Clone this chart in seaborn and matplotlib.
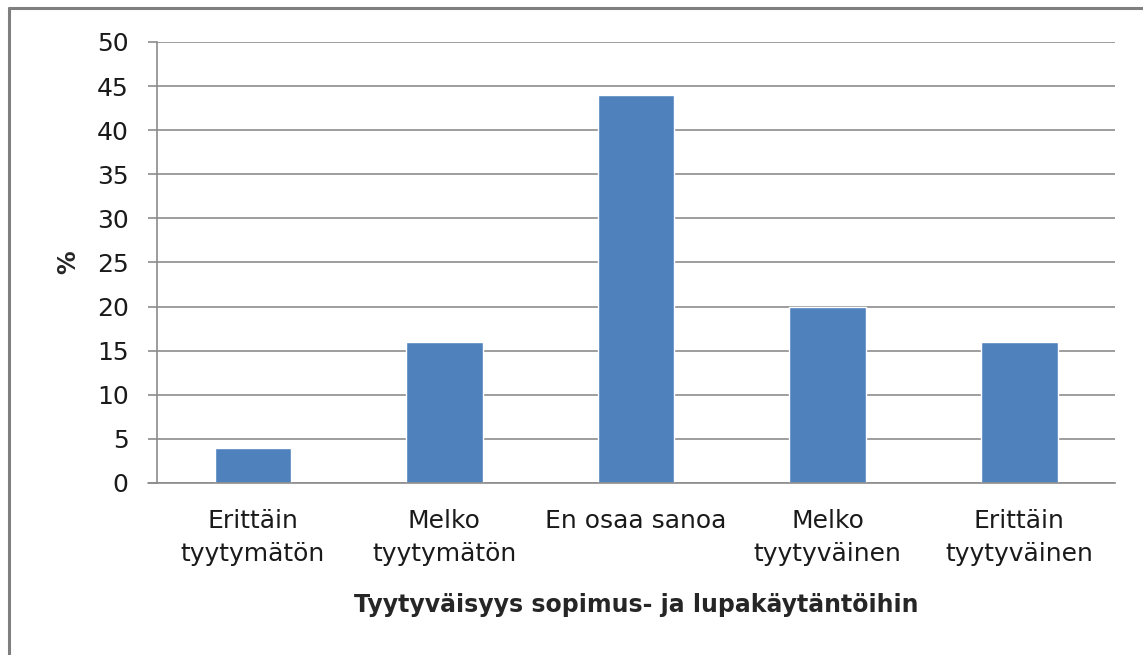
import matplotlib
matplotlib.use("Agg")
import matplotlib.pyplot as plt
import seaborn as sns
import pandas as pd
from matplotlib.lines import Line2D

# Data
categories = ["Erittäin\ntyytymätön", "Melko\ntyytymätön", "En osaa sanoa",
              "Melko\ntyytyväinen", "Erittäin\ntyytyväinen"]
values = [4, 16, 44, 20, 16]
yticks = [0, 5, 10, 15, 20, 25, 30, 35, 40, 45, 50]

df = pd.DataFrame({"cat": categories, "pct": values})

sns.set_style("white")
plt.rcParams["font.family"] = ["DejaVu Sans"]

fig = plt.figure(figsize=(11.43, 6.55), dpi=100)
ax = fig.add_axes([0.1374, 0.2626, 0.8381, 0.6733])

sns.barplot(data=df, x="cat", y="pct", color="#4F81BD", width=0.4,
            saturation=1, ax=ax, zorder=3)

grid_c = "#8C8C8C"
ax.set_ylim(0, 50)
ax.set_xlim(-0.5, 4.5)
ax.set_yticks(yticks)
ax.yaxis.grid(True, color=grid_c, linewidth=1.2, zorder=0)
ax.set_axisbelow(True)
for s in ["top", "right"]:
    ax.spines[s].set_visible(False)
ax.spines["left"].set_color(grid_c)
ax.spines["left"].set_linewidth(1.2)
ax.spines["bottom"].set_color(grid_c)
ax.spines["bottom"].set_linewidth(1.2)
ax.spines["bottom"].set_zorder(4)

ax.tick_params(axis="y", length=6.5, width=1.2, color=grid_c, labelsize=18,
               pad=14, left=True, labelcolor="#1a1a1a")
ax.tick_params(axis="x", length=0, labelsize=18, pad=19, labelcolor="#1a1a1a")
for lab in ax.get_xticklabels():
    lab.set_linespacing(1.45)

ax.set_ylabel("%", fontsize=17, fontweight="bold", labelpad=12)
ax.set_xlabel("Tyytyväisyys sopimus- ja lupakäytäntöihin", fontsize=17,
              fontweight="bold", va="center")
ax.xaxis.set_label_coords(0.5, -0.277)

# zero-line extension to the left like a tick
ax.plot([-0.5 - 0.047, -0.5], [0, 0], color=grid_c, lw=1.2, clip_on=False)

# outer frame (left and top only, as in the reference)
fig.add_artist(Line2D([0.0075, 0.0075], [0, 0.9885], color="#7F7F7F", lw=2.2,
                      transform=fig.transFigure))
fig.add_artist(Line2D([0.0075, 1], [0.9885, 0.9885], color="#7F7F7F", lw=2.2,
                      transform=fig.transFigure))

fig.savefig("out.png", dpi=100)
